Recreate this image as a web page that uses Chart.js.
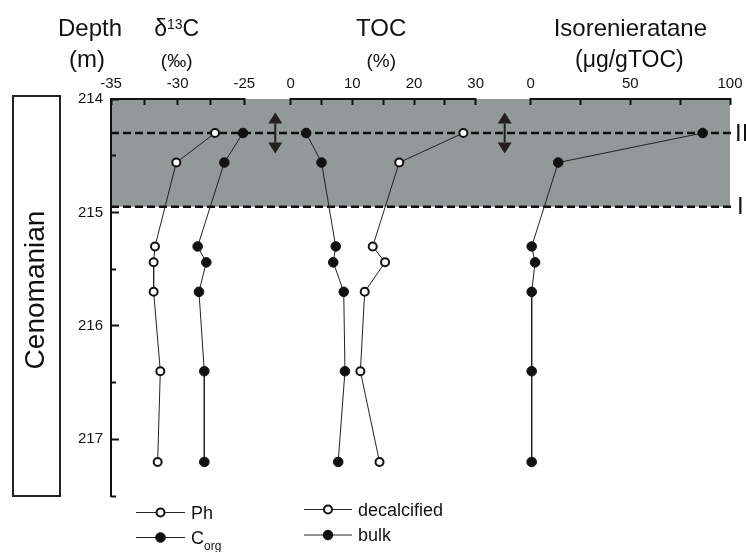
<!DOCTYPE html>
<html>
<head>
<meta charset="utf-8">
<script src="https://cdn.jsdelivr.net/npm/chart.js@4/dist/chart.umd.min.js"></script>
<style>
  html, body { margin: 0; padding: 0; background: #fff; }
  #wrap { position: relative; width: 746px; height: 552px; }
</style>
</head>
<body>
<div id="wrap"><canvas id="chart" width="746" height="552"></canvas></div>
<script>
// ---- data: sample depths (m) and measured profiles ----
const depths = [214.30, 214.56, 215.30, 215.44, 215.70, 216.40, 217.20];
const d13cPh = [-27.2, -30.1, -31.7, -31.8, -31.8, -31.3, -31.5];
const d13cCorg = [-25.1, -26.5, -28.5, -27.85, -28.4, -28.0, -28.0];
const tocDecalcified = [28.0, 17.6, 13.3, 15.3, 12.0, 11.3, 14.4];
const tocBulk = [2.5, 5.0, 7.3, 6.9, 8.6, 8.8, 7.7];
const isorenieratane = [86.3, 13.8, 0.5, 2.2, 0.5, 0.5, 0.5];

// ---- axis ticks ----
const depthTicks = [214, 215, 216, 217];
const depthMinorTicks = [214.5, 215.5, 216.5, 217.5];
const d13cTicks = [-35, -32.5, -30, -27.5, -25];
const d13cLabels = [-35, -30, -25];
const tocTicks = [0, 5, 10, 15, 20, 25, 30];
const tocLabels = [0, 10, 20, 30];
const isoTicks = [0, 25, 50, 75, 100];
const isoLabels = [0, 50, 100];

// ---- zones (depth, m) ----
const zoneTop = 214.0;
const zoneII = 214.30;
const zoneI = 214.95;
const arrowHalfSpan = 0.18;
const arrowPositions = [-2.5, 34.7]; // on the TOC scale

const FONT = '"Liberation Sans", Arial, Helvetica, sans-serif';
const INK = '#111';
const PLOT_TOP = 99;
const AXIS_WIDTH = 111;

Chart.defaults.font.family = FONT;
Chart.defaults.color = INK;

const openPoint = { pointRadius: 4, pointBorderWidth: 2, pointBackgroundColor: '#fff', pointBorderColor: INK, pointHoverRadius: 4 };
const filledPoint = { pointRadius: 4.8, pointBorderWidth: 1, pointBackgroundColor: INK, pointBorderColor: INK, pointHoverRadius: 4.8 };

function series(label, xAxisID, values, style) {
  return Object.assign({
    label, xAxisID, yAxisID: 'y',
    data: values.map((v, i) => ({ x: v, y: depths[i] })),
    showLine: true, borderColor: '#222', borderWidth: 1, clip: false
  }, style);
}

// top axes share one row; label overhang must not shrink the plot area
function noOverhang(s) {
  s.height = PLOT_TOP;
  s.paddingLeft = 0;
  s.paddingRight = 0;
}

function topAxis(min, max, tickVals, labelVals, stackWeight, weight) {
  return {
    type: 'linear', position: 'top', stack: 'top', stackWeight, weight, min, max,
    afterBuildTicks: s => { s.ticks = tickVals.map(v => ({ value: v })); },
    afterFit: noOverhang,
    ticks: {
      autoSkip: false, maxRotation: 0, minRotation: 0, padding: 12, color: INK,
      font: { family: FONT, size: 15 },
      callback: v => labelVals.includes(v) ? String(v) : ''
    },
    grid: { display: true, drawOnChartArea: false, drawTicks: true, tickLength: -6, tickWidth: 2, tickColor: INK },
    border: { display: true, width: 2, color: INK }
  };
}

function spacer(stackWeight, weight) {
  return {
    type: 'linear', position: 'top', stack: 'top', stackWeight, weight, min: 0, max: 1,
    afterFit: noOverhang,
    ticks: { display: false }, grid: { display: false }, border: { display: false }
  };
}

// gray zone, boundaries, arrows, titles, legend and stratigraphic column
const decorations = {
  id: 'decorations',
  beforeDraw(chart) {
    const { ctx, chartArea, scales } = chart;
    const y = scales.y;
    ctx.save();
    ctx.fillStyle = '#939898';
    const y0 = y.getPixelForValue(zoneTop), y1 = y.getPixelForValue(zoneI);
    ctx.fillRect(chartArea.left, y0, chartArea.right - chartArea.left, y1 - y0);
    ctx.restore();
  },
  beforeDatasetsDraw(chart) {
    const { ctx, chartArea, scales } = chart;
    const y = scales.y;
    ctx.save();
    ctx.strokeStyle = INK;
    ctx.lineWidth = 2.5;
    ctx.setLineDash([8, 4]);
    [zoneII, zoneI].forEach(d => {
      const py = y.getPixelForValue(d);
      ctx.beginPath();
      ctx.moveTo(chartArea.left, py);
      ctx.lineTo(chartArea.right + 3, py);
      ctx.stroke();
    });
    ctx.setLineDash([]);
    // double arrows
    ctx.fillStyle = '#231f1c';
    ctx.strokeStyle = '#231f1c';
    ctx.lineWidth = 2;
    arrowPositions.forEach(v => {
      const x = scales.xT.getPixelForValue(v);
      const ya = y.getPixelForValue(zoneII - arrowHalfSpan);
      const yb = y.getPixelForValue(zoneII + arrowHalfSpan);
      const hw = 7, hh = 11;
      ctx.beginPath(); ctx.moveTo(x, ya + hh); ctx.lineTo(x, yb - hh); ctx.stroke();
      ctx.beginPath(); ctx.moveTo(x, ya); ctx.lineTo(x - hw, ya + hh); ctx.lineTo(x + hw, ya + hh); ctx.closePath(); ctx.fill();
      ctx.beginPath(); ctx.moveTo(x, yb); ctx.lineTo(x - hw, yb - hh); ctx.lineTo(x + hw, yb - hh); ctx.closePath(); ctx.fill();
    });
    ctx.restore();
  },
  afterDraw(chart) {
    const { ctx, chartArea, scales } = chart;
    const y = scales.y;
    const mid = s => (s.left + s.right) / 2;
    ctx.save();
    ctx.fillStyle = INK;

    // zone labels
    ctx.textAlign = 'left';
    ctx.font = '24px ' + FONT;
    ctx.textBaseline = 'middle';
    ctx.fillText('II', chartArea.right + 5, y.getPixelForValue(zoneII) + 1);
    ctx.fillText('I', chartArea.right + 7, y.getPixelForValue(zoneI) + 1);

    // column titles
    ctx.textBaseline = 'alphabetic';
    ctx.textAlign = 'center';
    const b1 = 36, b2 = 67;
    const depthX = y.right - 21;
    ctx.font = '24px ' + FONT;
    ctx.fillText('Depth', depthX, b1);
    ctx.fillText('(m)', depthX - 3, b2);

    // δ13C with superscript
    const dx = mid(scales.xD) - 1;
    ctx.font = '23px ' + FONT;
    const wD = ctx.measureText('δ').width, wC = ctx.measureText('C').width;
    ctx.font = '14px ' + FONT;
    const w13 = ctx.measureText('13').width;
    const sx = dx - (wD + w13 + wC) / 2;
    ctx.textAlign = 'left';
    ctx.font = '23px ' + FONT;
    ctx.fillText('δ', sx, b1);
    ctx.font = '14px ' + FONT;
    ctx.fillText('13', sx + wD, b1 - 7);
    ctx.font = '23px ' + FONT;
    ctx.fillText('C', sx + wD + w13, b1);
    ctx.textAlign = 'center';
    ctx.font = '19px ' + FONT;
    ctx.fillText('(‰)', dx, b2);

    const tx = mid(scales.xT) - 2;
    ctx.font = '24px ' + FONT;
    ctx.fillText('TOC', tx, b1);
    ctx.font = '19px ' + FONT;
    ctx.fillText('(%)', tx, b2);

    const ix = mid(scales.xI);
    ctx.font = '24px ' + FONT;
    ctx.fillText('Isorenieratane', ix, b1);
    ctx.font = '23px ' + FONT;
    ctx.fillText('(μg/gTOC)', ix - 1, b2);

    // stratigraphic column
    ctx.strokeStyle = '#222';
    ctx.lineWidth = 2;
    const colTop = y.getPixelForValue(zoneTop) - 3;
    const colBottom = chartArea.bottom;
    ctx.strokeRect(13, colTop, 47, colBottom - colTop);
    ctx.save();
    ctx.translate(36.5, (colTop + colBottom) / 2 - 6);
    ctx.rotate(-Math.PI / 2);
    ctx.font = '28px ' + FONT;
    ctx.textAlign = 'center';
    ctx.textBaseline = 'middle';
    ctx.fillText('Cenomanian', 0, 0);
    ctx.restore();

    // legend
    const ds = chart.data.datasets;
    const entry = (d, x0, x1, yy, textX, draw) => {
      ctx.strokeStyle = d.borderColor;
      ctx.lineWidth = d.borderWidth;
      ctx.beginPath(); ctx.moveTo(x0, yy); ctx.lineTo(x1, yy); ctx.stroke();
      ctx.beginPath();
      ctx.arc((x0 + x1) / 2, yy, d.pointRadius, 0, Math.PI * 2);
      ctx.fillStyle = d.pointBackgroundColor; ctx.fill();
      ctx.lineWidth = d.pointBorderWidth; ctx.strokeStyle = d.pointBorderColor; ctx.stroke();
      ctx.fillStyle = INK;
      ctx.textAlign = 'left';
      ctx.textBaseline = 'alphabetic';
      draw(textX, yy + 6);
    };
    entry(ds[0], 136, 185, 512.5, 191, (x, yb) => { ctx.font = '18px ' + FONT; ctx.fillText(ds[0].label, x, yb); });
    entry(ds[1], 136, 185, 537.5, 191, (x, yb) => {
      ctx.font = '18px ' + FONT; ctx.fillText('C', x, yb);
      const w = ctx.measureText('C').width;
      ctx.font = '12px ' + FONT; ctx.fillText('org', x + w, yb + 6);
    });
    entry(ds[2], 304, 352, 509.5, 358, (x, yb) => { ctx.font = '18px ' + FONT; ctx.fillText(ds[2].label, x, yb); });
    entry(ds[3], 304, 352, 535, 358, (x, yb) => { ctx.font = '18px ' + FONT; ctx.fillText(ds[3].label, x, yb); });
    ctx.restore();
  }
};

new Chart(document.getElementById('chart'), {
  type: 'scatter',
  data: {
    datasets: [
      series('Ph', 'xD', d13cPh, openPoint),
      series('Corg', 'xD', d13cCorg, filledPoint),
      series('decalcified', 'xT', tocDecalcified, openPoint),
      series('bulk', 'xT', tocBulk, filledPoint),
      series('Isorenieratane', 'xI', isorenieratane, filledPoint)
    ]
  },
  options: {
    responsive: false,
    devicePixelRatio: 1,
    animation: false,
    events: [],
    layout: { padding: { left: 0, top: 0, right: 16, bottom: 56 } },
    plugins: { legend: { display: false }, tooltip: { enabled: false } },
    scales: {
      y: {
        type: 'linear', position: 'left', reverse: true, min: 214, max: 217.5,
        afterBuildTicks: s => { s.ticks = depthTicks.map(v => ({ value: v })); },
        afterFit: s => { s.width = AXIS_WIDTH; s.paddingTop = 0; s.paddingBottom = 0; },
        ticks: { padding: 16, color: INK, font: { family: FONT, size: 15 }, callback: v => String(v) },
        grid: { display: true, drawOnChartArea: false, drawTicks: true, tickLength: -8, tickWidth: 2, tickColor: INK },
        border: { display: true, width: 2, color: INK }
      },
      yMinor: {
        type: 'linear', position: { xD: -35 }, reverse: true, min: 214, max: 217.5,
        afterBuildTicks: s => { s.ticks = depthMinorTicks.map(v => ({ value: v })); },
        ticks: { callback: () => '' },
        grid: { display: true, drawOnChartArea: false, drawTicks: true, tickLength: -5, tickWidth: 2, tickColor: INK },
        border: { display: false }
      },
      xD: topAxis(-35, -25, d13cTicks, d13cLabels, 133.3, 5),
      xGap1: spacer(46.4, 4),
      xT: topAxis(0, 30, tocTicks, tocLabels, 185, 3),
      xGap2: spacer(55, 2),
      xI: topAxis(0, 100, isoTicks, isoLabels, 199.3, 1)
    }
  },
  plugins: [decorations]
});
</script>
</body>
</html>
